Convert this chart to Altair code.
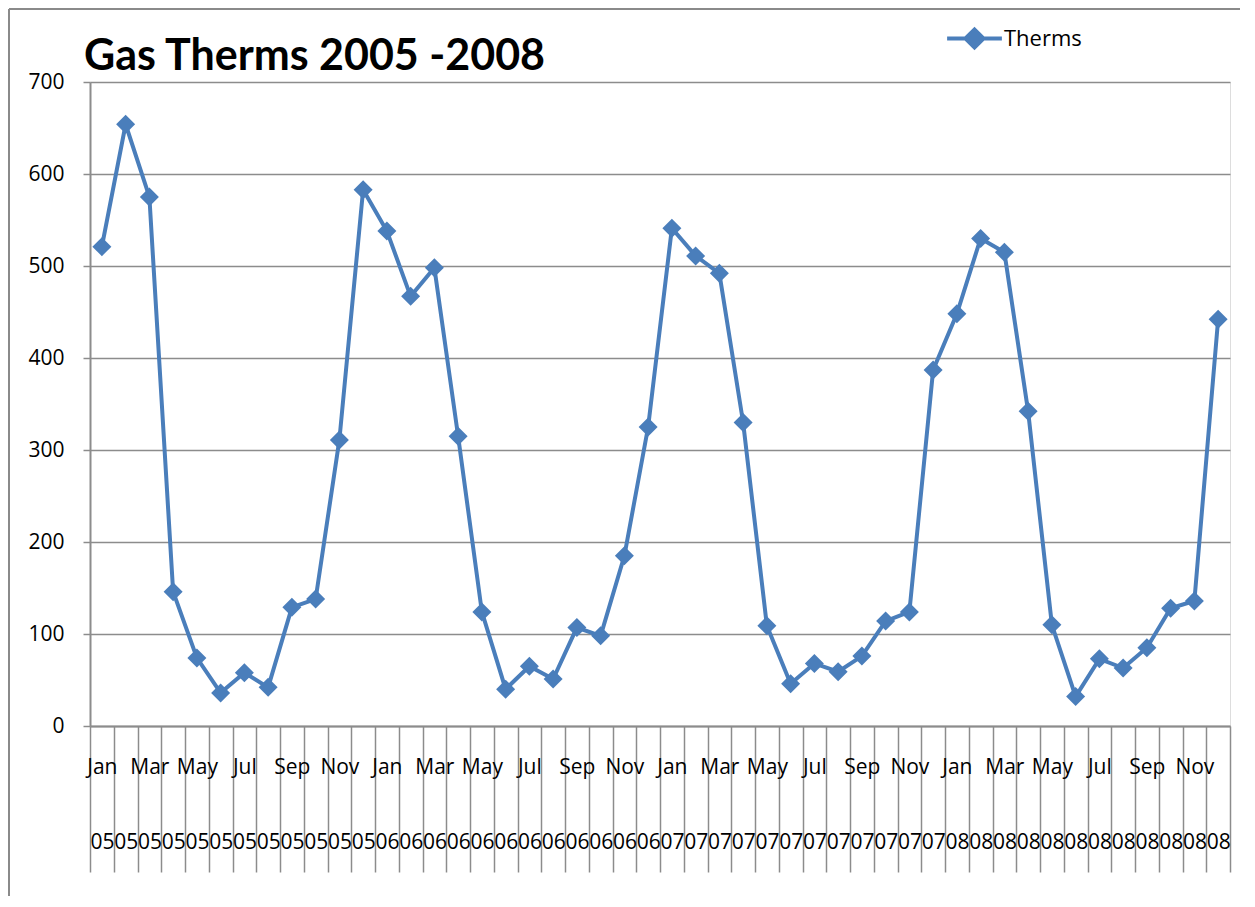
import altair as alt
import pandas as pd

month_names = ["Jan", "Feb", "Mar", "Apr", "May", "Jun",
               "Jul", "Aug", "Sep", "Oct", "Nov", "Dec"]
year_labels = ["05", "06", "07", "08"]
therms = [
    521, 654, 575, 146, 74, 36, 58, 42, 129, 138, 311, 583,
    538, 467, 498, 315, 124, 40, 65, 51, 107, 98, 185, 325,
    541, 511, 492, 330, 109, 46, 68, 59, 76, 114, 124, 387,
    448, 530, 515, 342, 110, 32, 73, 63, 85, 128, 136, 442,
]
y_ticks = [0, 100, 200, 300, 400, 500, 600, 700]

n = len(therms)
df = pd.DataFrame({
    "pos": [i + 0.5 for i in range(n)],
    "month": [f"{month_names[i % 12]} {year_labels[i // 12]}" for i in range(n)],
    "Therms": therms,
    "series": ["Therms"] * n,
})

PW, PH = 1140, 644
BLUE = "#4a7ebb"
GRID = "#8c8c8c"
FONT = "Open Sans"

mon_arr = "[" + ",".join(f"'{m if i % 2 == 0 else ''}'" for i, m in enumerate(month_names)) + "]"
yr_arr = "[" + ",".join(f"'{y}'" for y in year_labels) + "]"
label_expr = (f"datum.value < {n} ? [{mon_arr}[datum.value % 12], "
              f"{yr_arr}[floor(datum.value / 12)]] : ''")

x = alt.X("pos:Q",
          scale=alt.Scale(domain=[0, n], nice=False, zero=False),
          axis=alt.Axis(values=list(range(n + 1)), title=None, grid=False,
                        domainColor=GRID, domainWidth=2,
                        tickColor=GRID, tickWidth=1.5, tickSize=146,
                        labelExpr=label_expr, labelOverlap=False, labelFlush=False,
                        labelBound=False, labelAlign="center",
                        labelOffset=PW / n / 2, labelPadding=-116,
                        labelBaseline="top", labelLineHeight=75,
                        labelFont=FONT, labelFontSize=21, labelColor="#000000"))
y = alt.Y("Therms:Q",
          scale=alt.Scale(domain=[0, 700], nice=False),
          axis=alt.Axis(values=y_ticks, title=None, grid=True, gridColor=GRID,
                        gridWidth=1.5, domainColor=GRID, domainWidth=2,
                        tickColor=GRID, tickWidth=1.5, tickSize=7,
                        labelPadding=19, labelFont=FONT, labelFontSize=21,
                        labelColor="#000000"))

color = alt.Color("series:N", scale=alt.Scale(range=[BLUE]),
                  legend=alt.Legend(title=None, orient="none", legendX=855, legendY=-73,
                                    symbolType="M-1,0H1M-0.33,0L0,-0.33L0.33,0L0,0.33Z",
                                    symbolSize=3000, symbolStrokeWidth=4,
                                    symbolFillColor=BLUE, symbolStrokeColor=BLUE,
                                    labelFont=FONT, labelFontSize=22, labelColor="#000000",
                                    labelOffset=0))

line = alt.Chart(df).mark_line(strokeWidth=4).encode(x=x, y=y, color=color)
pts = alt.Chart(df).mark_point(shape="diamond", size=361, filled=True, opacity=1).encode(
    x=x, y=y, color=alt.Color("series:N", scale=alt.Scale(range=[BLUE]), legend=None),
    tooltip=["month", "Therms"])

frame = alt.Chart(df).mark_rule(color="#8a8a8a", strokeWidth=2).encode(
    x=alt.value(-81), x2=alt.value(1180), y=alt.value(-73))
frame_left = alt.Chart(df).mark_rule(color="#8a8a8a", strokeWidth=2).encode(
    x=alt.value(-81), y=alt.value(-73), y2=alt.value(900))

chart = alt.layer(frame, frame_left, line, pts).properties(
    width=PW, height=PH,
    title=alt.TitleParams("Gas Therms 2005 -2008", anchor="start", frame="group",
                          font="Lato", fontSize=43, fontWeight="bold", color="#000000",
                          baseline="alphabetic", dx=-6, dy=105, offset=0),
    autosize=alt.AutoSizeParams(type="none"),
    padding={"left": 82, "top": 74, "right": 10, "bottom": 170},
).configure_view(stroke=None).configure(background="white")

chart.save("out.html", embed_options={"renderer": "svg", "actions": False})
